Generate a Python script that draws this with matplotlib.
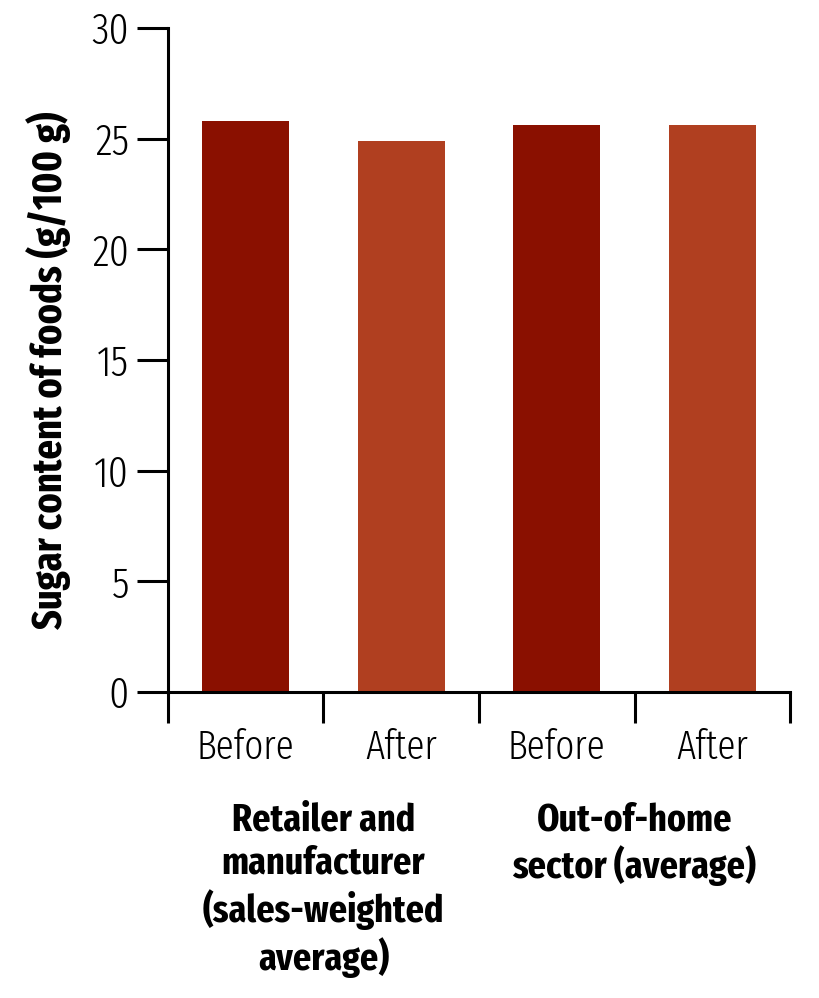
import numpy as np
import matplotlib
matplotlib.use('Agg')
import matplotlib.pyplot as plt

# values
bar_labels = ['Before', 'After', 'Before', 'After']
sugar = [25.8, 24.9, 25.6, 25.6]
bar_colors = ['#8a1000', '#b03f20', '#8a1000', '#b03f20']
group_labels = ['Retailer and\nmanufacturer\n(sales-weighted\naverage)',
                'Out-of-home\nsector (average)']
group_centers = [0.5, 2.5]
y_ticks = [0, 5, 10, 15, 20, 25, 30]

FONT = ['Fira Sans Extra Condensed', 'DejaVu Sans']
plt.rcParams['font.family'] = FONT

fig = plt.figure(figsize=(8.19, 9.98), dpi=100)
ax = fig.add_axes([0.205, 0.3066, 0.7597, 0.6654])

x = np.arange(len(sugar))
ax.bar(x, sugar, width=0.56, color=bar_colors)

ax.set_xlim(-0.5, 3.5)
ax.set_ylim(0, 30)
ax.set_yticks(y_ticks)
ax.set_xticks(x)
ax.set_xticklabels(bar_labels, fontweight=300)
ax.set_yticklabels([str(t) for t in y_ticks], fontweight=300)
ax.set_xticks(np.arange(-0.5, 4.0, 1.0), minor=True)
ax.tick_params(axis='x', which='major', length=0, pad=26, labelsize=29)
ax.tick_params(axis='x', which='minor', length=22, width=2.2, direction='out')
ax.tick_params(axis='y', length=22, width=2.2, pad=6, labelsize=31)

for side in ['top', 'right']:
    ax.spines[side].set_visible(False)
for side in ['left', 'bottom']:
    ax.spines[side].set_linewidth(2.2)

ax.set_ylabel('Sugar content of foods (g/100 g)', fontsize=30,
              fontweight='bold')
ax.yaxis.set_label_coords(-0.155, 0.485)

for cx, txt in zip(group_centers, group_labels):
    ax.text(cx, -4.95, txt, ha='center', va='top', fontsize=28,
            fontweight='bold', linespacing=1.22)

fig.savefig('out.png', dpi=100)
